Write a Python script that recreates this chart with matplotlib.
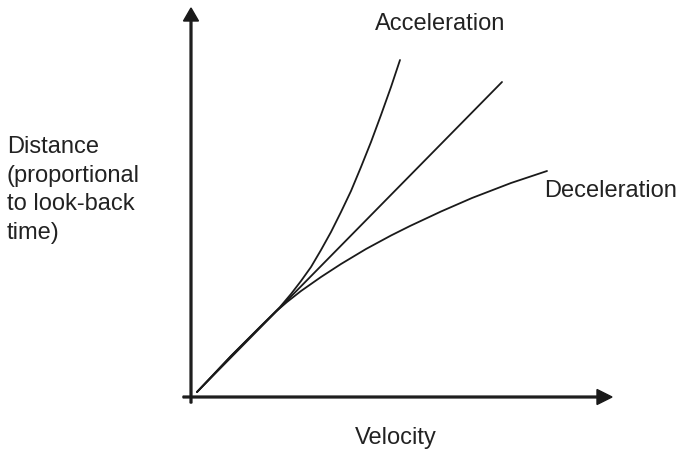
import matplotlib.pyplot as plt
import numpy as np

plt.rcParams['font.family'] = ['Liberation Sans', 'DejaVu Sans']

# values (velocity, distance), arbitrary units
vel_accel = [6, 40, 70, 89, 100, 110, 120, 130, 140, 150, 160, 170, 180, 190, 200, 209]
dist_accel = [5, 41, 71, 90, 103, 116, 130, 147, 165, 185, 206, 230, 255, 282, 310, 337]

vel_const = [6, 311]
dist_const = [5, 315]

vel_decel = [6, 40, 70, 85, 96, 110, 130, 150, 175, 200, 219, 250, 281, 320, 356]
dist_decel = [5, 41, 71, 85.5, 95, 106, 120, 133, 148, 161.5, 171, 185.5, 199, 214, 226]

x_label = "Velocity"
y_label = "Distance\n(proportional\nto look-back\ntime)"
curve_labels = ["Acceleration", "Deceleration"]

ink = '#1a1a1a'
txt = '#222222'

fig = plt.figure(figsize=(6.84, 4.55), dpi=100)
ax = fig.add_axes([0, 0, 1, 1])
ax.set_xlim(-191, 493)
ax.set_ylim(-58, 397)
ax.axis('off')

# axes with arrow heads
ax.arrow(-8, 0, 429, 0, width=1.8, head_width=15, head_length=15,
         length_includes_head=True, color=ink)
ax.arrow(0, -6, 0, 395, width=1.8, head_width=15, head_length=13,
         length_includes_head=True, color=ink)

for v, d in [(vel_accel, dist_accel), (vel_const, dist_const), (vel_decel, dist_decel)]:
    ax.plot(v, d, color=ink, lw=1.3, solid_capstyle='round', solid_joinstyle='round')

fs = 17
ax.text(249, 373, curve_labels[0], fontsize=fs, color=txt, ha='center', va='center')
ax.text(353, 206, curve_labels[1], fontsize=fs, color=txt, ha='left', va='center')
ax.text(205, -41, x_label, fontsize=fs, color=txt, ha='center', va='center')
ax.text(-184, 207, y_label, fontsize=fs, color=txt, ha='left', va='center',
        linespacing=1.4)

fig.savefig('out.png', dpi=100)
